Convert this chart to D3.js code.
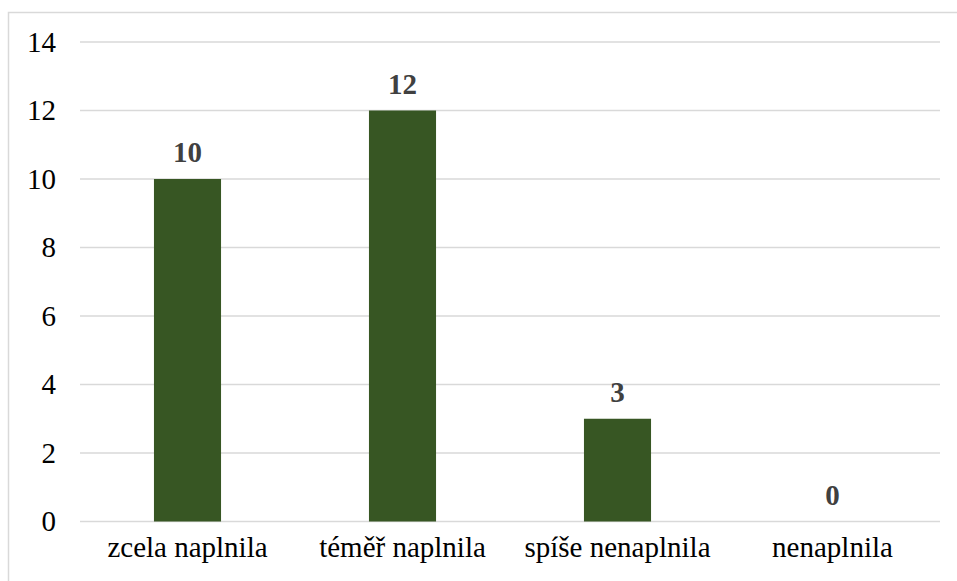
<!DOCTYPE html>
<html>
<head>
<meta charset="utf-8">
<script src="https://cdn.jsdelivr.net/npm/d3@7"></script>
</head>
<body style="margin:0">
<svg id="chart" width="957" height="581"></svg>
<script>
const categories = ["zcela naplnila", "téměř naplnila", "spíše nenaplnila", "nenaplnila"];
const counts = [10, 12, 3, 0];
const yTicks = [0, 2, 4, 6, 8, 10, 12, 14];

const W = 957, H = 581;
const margin = { left: 80, right: 17, top: 42, bottom: 59.5 };
const FONT = "Liberation Serif";
const SIZE = "29px";
const svg = d3.select("#chart");

// outer chart frame
svg.append("rect")
  .attr("x", 8.5).attr("y", 12.5)
  .attr("width", W + 10).attr("height", H + 10)
  .attr("fill", "none").attr("stroke", "#d9d9d9").attr("stroke-width", 1.5);

const x = d3.scaleBand()
  .domain(categories)
  .range([margin.left, W - margin.right])
  .paddingInner(0.688).paddingOuter(0.344);

const y = d3.scaleLinear()
  .domain([0, 14])
  .range([H - margin.bottom, margin.top]);

// horizontal gridlines
svg.append("g")
  .selectAll("line")
  .data(yTicks)
  .join("line")
  .attr("x1", margin.left).attr("x2", W - margin.right)
  .attr("y1", d => y(d)).attr("y2", d => y(d))
  .attr("stroke", "#d9d9d9").attr("stroke-width", 1.5);

// y axis labels
const yAxis = d3.axisLeft(y).tickValues(yTicks).tickSize(0).tickPadding(24);
const gy = svg.append("g").attr("transform", `translate(${margin.left},0)`).call(yAxis);
gy.select(".domain").remove();
gy.selectAll("text")
  .style("font-family", FONT)
  .style("font-size", SIZE)
  .style("fill", "#000");

// x axis labels
const xAxis = d3.axisBottom(x).tickSize(0).tickPadding(14.5);
const gx = svg.append("g").attr("transform", `translate(0,${y(0)})`).call(xAxis);
gx.select(".domain").remove();
gx.selectAll("text")
  .style("font-family", FONT)
  .style("font-size", SIZE)
  .style("fill", "#000");

// bars
const data = categories.map((c, i) => ({ c, v: counts[i] }));
svg.append("g")
  .selectAll("rect")
  .data(data)
  .join("rect")
  .attr("x", d => x(d.c))
  .attr("width", x.bandwidth())
  .attr("y", d => y(d.v))
  .attr("height", d => y(0) - y(d.v))
  .attr("fill", "#375623");

// value labels
svg.append("g")
  .selectAll("text")
  .data(data)
  .join("text")
  .attr("x", d => x(d.c) + x.bandwidth() / 2)
  .attr("y", d => y(d.v) - 17)
  .attr("text-anchor", "middle")
  .style("font-family", FONT)
  .style("font-weight", "bold")
  .style("font-size", SIZE)
  .style("fill", "#404040")
  .text(d => d.v);
</script>
</body>
</html>
